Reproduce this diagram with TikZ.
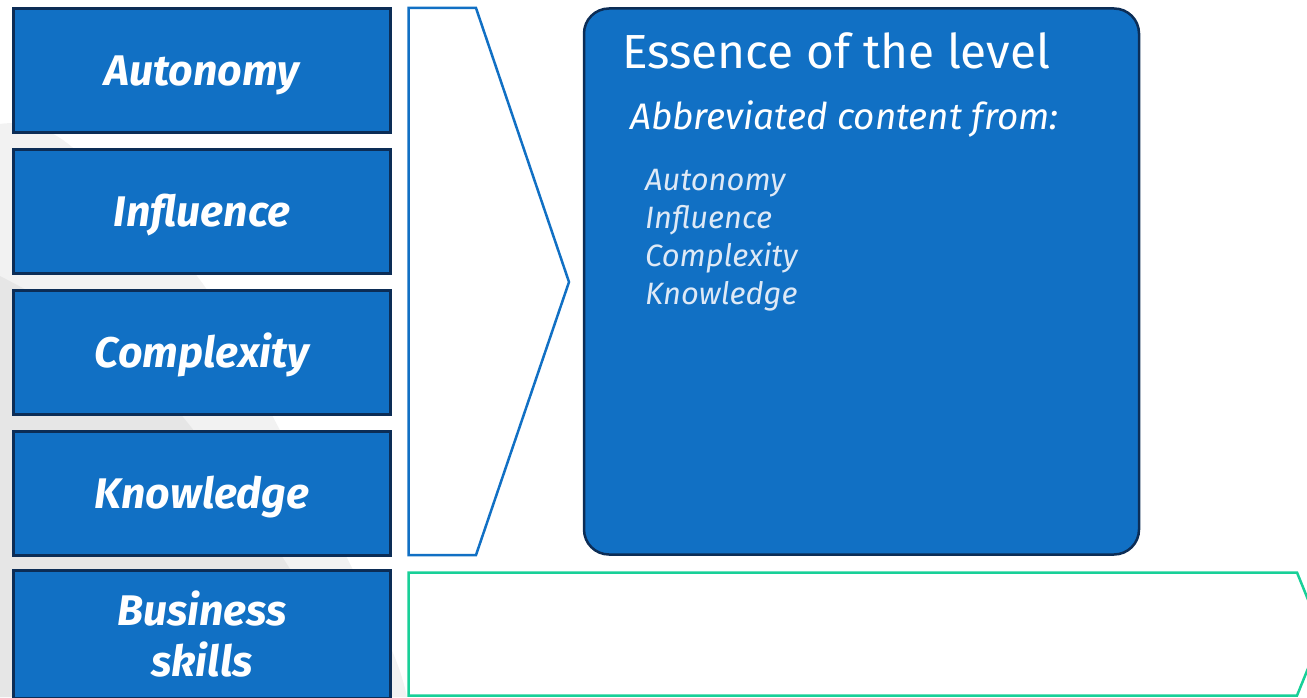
\documentclass[tikz,border=0pt]{standalone}
\usepackage{fontspec}
\setmainfont{Fira Sans}
\definecolor{ibmblue}{RGB}{17,112,196}
\definecolor{navy}{RGB}{12,45,86}
\definecolor{mint}{RGB}{24,208,152}
\definecolor{swooshlight}{RGB}{242,242,242}
\definecolor{swooshdark}{RGB}{230,230,230}
\definecolor{softwhite}{RGB}{222,233,246}
\providecommand\light{\fontseries{l}\selectfont}
\begin{document}
\begin{tikzpicture}[x=1bp,y=-1bp,
  lvlbase/.style={draw=navy, line width=3bp, fill=ibmblue, minimum width=377bp,
    minimum height=124bp, inner sep=0pt, text=white, align=center,
    font=\fontsize{43}{51}\selectfont\bfseries\itshape},
  lvlbox/.style={lvlbase, text height=29.7bp, text depth=0pt},
  chevron/.style={draw=ibmblue, line width=2.5bp, fill=white, line join=miter},
  bizarrow/.style={draw=mint, line width=2.5bp, fill=white},
  essencebox/.style={draw=navy, line width=2.5bp, fill=ibmblue, rounded corners=25bp,
    minimum width=555bp, minimum height=546bp, inner sep=0pt},
  title/.style={anchor=base west, inner sep=0pt, text=white, font=\fontsize{48}{58}\selectfont\light},
  subtitle/.style={anchor=base west, inner sep=0pt, text=white, font=\fontsize{37}{44}\selectfont\itshape},
  item/.style={anchor=base west, inner sep=0pt, text=softwhite, font=\fontsize{31}{38}\selectfont\itshape}
]
\useasboundingbox (0,0) rectangle (1307,697);
\clip (0,0) rectangle (1307,697);

% soft grey swoosh behind the left column
\fill[swooshlight] plot[smooth, tension=0.6] coordinates
  {(0,124) (67,143) (200,280) (273,417) (347,558) (393,653) (407,697)}
  -- (0,697) -- cycle;
\fill[swooshdark] plot[smooth, tension=0.6] coordinates
  {(0,276) (100,335) (183,417) (283,558) (365,697)}
  -- (0,697) -- cycle;

% left column of level attributes
\node[lvlbox] (auto) at (202,70.5) {Autonomy};
\node[lvlbox] (infl) at (202,211.5) {Influence};
\node[lvlbox] (comp) at (202,352.5) {Complexity};
\node[lvlbox] (know) at (202,493.5) {Knowledge};
\node[lvlbase, minimum height=128bp] (biz) at (202,634) {Business\\skills};

% chevron funnelling the four attributes into the summary
\draw[chevron] (408.5,8) -- (476,8) -- (569,282) -- (476,555) -- (408.5,555) -- cycle;

% summary panel
\node[essencebox] (ess) at (861.5,281.5) {};
\node[title] (esst) at (622,69) {Essence of the level};
\node[subtitle] (abbr) at (630,130) {Abbreviated content from:};
\node[item] (i1) at (645,190) {Autonomy};
\node[item] (i2) at (645,228) {Influence};
\node[item] (i3) at (645,266) {Complexity};
\node[item] (i4) at (645,304) {Knowledge};

% business skills arrow
\draw[bizarrow] (408.5,572.5) -- (1297,572.5) -- (1322,634) -- (1297,695.5) -- (408.5,695.5) -- cycle;
\end{tikzpicture}
\end{document}
